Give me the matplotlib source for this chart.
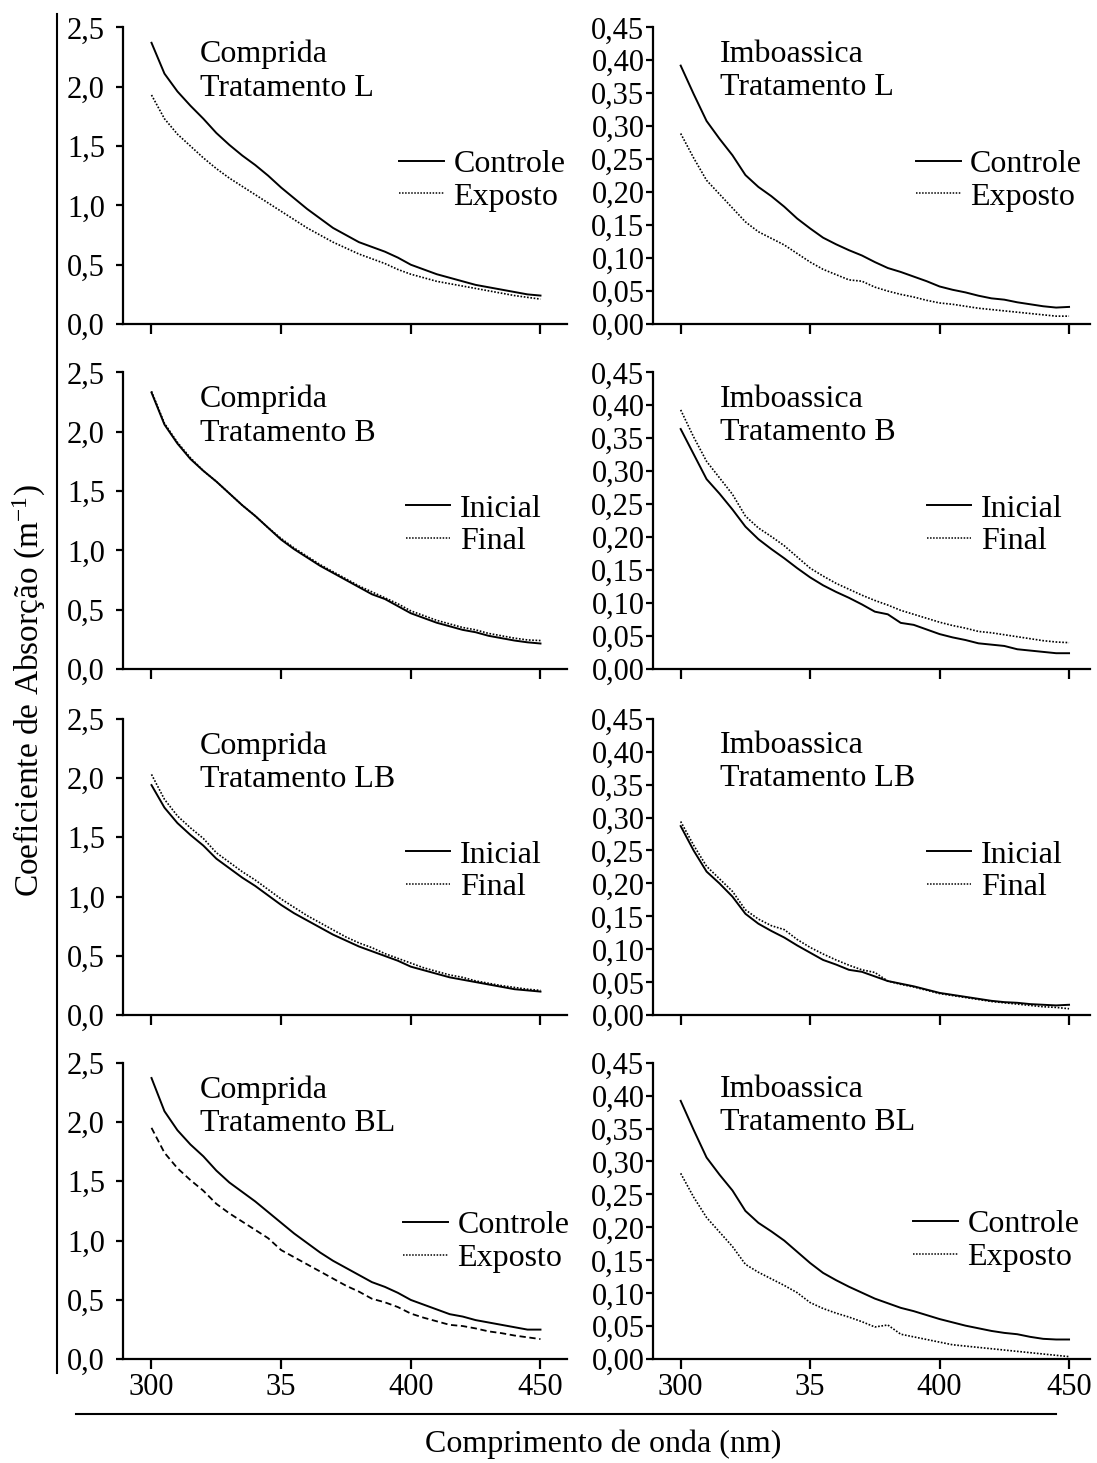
#!/usr/bin/env python3
"""
Absorption spectra of CDOM for Comprida and Imboassica lagoons,
four treatments each (L, B, LB, BL). 4 x 2 grid of line panels.
"""

import matplotlib
matplotlib.use('Agg')  # no display
import matplotlib.pyplot as plt
from matplotlib.lines import Line2D
from matplotlib.transforms import Bbox, TransformedBbox

# wavelength grid (nm)
WAVELENGTH = [300, 305, 310, 315, 320, 325, 330, 335, 340, 345, 350,
              355, 360, 365, 370, 375, 380, 385, 390, 395, 400,
              405, 410, 415, 420, 425, 430, 435, 440, 445, 450]

# Comprida - Tratamento L
COMPRIDA_L_CONTROLE = [2.37, 2.11, 1.96, 1.84, 1.73, 1.61, 1.51, 1.42, 1.34, 1.25, 1.15,
                       1.06, 0.97, 0.89, 0.81, 0.75, 0.69, 0.65, 0.61, 0.56, 0.50,
                       0.46, 0.42, 0.39, 0.36, 0.33, 0.31, 0.29, 0.27, 0.25, 0.24]
COMPRIDA_L_EXPOSTO = [1.93, 1.73, 1.60, 1.50, 1.40, 1.31, 1.23, 1.16, 1.09, 1.02, 0.95,
                      0.88, 0.81, 0.75, 0.69, 0.64, 0.59, 0.55, 0.51, 0.46, 0.42,
                      0.39, 0.36, 0.34, 0.32, 0.30, 0.28, 0.26, 0.24, 0.225, 0.21]

# Imboassica - Tratamento L
IMBOASSICA_L_CONTROLE = [0.392, 0.349, 0.308, 0.281, 0.256, 0.226, 0.208, 0.194, 0.178, 0.160, 0.145,
                         0.131, 0.121, 0.112, 0.104, 0.094, 0.085, 0.079, 0.072, 0.065, 0.057,
                         0.052, 0.048, 0.043, 0.039, 0.037, 0.033, 0.030, 0.027, 0.025, 0.026]
IMBOASSICA_L_EXPOSTO = [0.289, 0.252, 0.218, 0.197, 0.176, 0.155, 0.140, 0.130, 0.120, 0.107, 0.094,
                        0.083, 0.075, 0.067, 0.065, 0.056, 0.050, 0.045, 0.041, 0.036, 0.032,
                        0.030, 0.027, 0.024, 0.022, 0.020, 0.018, 0.016, 0.014, 0.012, 0.012]

# Comprida - Tratamento B
COMPRIDA_B_INICIAL = [2.33, 2.06, 1.90, 1.77, 1.67, 1.58, 1.48, 1.38, 1.29, 1.19, 1.09,
                      1.01, 0.94, 0.87, 0.81, 0.75, 0.69, 0.63, 0.59, 0.53, 0.47,
                      0.43, 0.39, 0.36, 0.33, 0.31, 0.28, 0.26, 0.24, 0.225, 0.215]
COMPRIDA_B_FINAL = [2.34, 2.07, 1.91, 1.78, 1.67, 1.58, 1.48, 1.38, 1.29, 1.19, 1.10,
                    1.02, 0.95, 0.88, 0.82, 0.76, 0.70, 0.65, 0.60, 0.55, 0.49,
                    0.45, 0.41, 0.38, 0.35, 0.33, 0.30, 0.28, 0.26, 0.245, 0.24]

# Imboassica - Tratamento B
IMBOASSICA_B_INICIAL = [0.364, 0.326, 0.288, 0.266, 0.242, 0.216, 0.197, 0.182, 0.168, 0.153, 0.139,
                        0.127, 0.117, 0.108, 0.098, 0.087, 0.083, 0.070, 0.067, 0.060, 0.053,
                        0.048, 0.044, 0.039, 0.037, 0.035, 0.030, 0.028, 0.026, 0.024, 0.024]
IMBOASSICA_B_FINAL = [0.393, 0.352, 0.315, 0.290, 0.265, 0.232, 0.214, 0.201, 0.187, 0.170, 0.153,
                      0.141, 0.130, 0.121, 0.112, 0.104, 0.097, 0.089, 0.083, 0.077, 0.071,
                      0.066, 0.062, 0.057, 0.055, 0.052, 0.049, 0.046, 0.043, 0.041, 0.040]

# Comprida - Tratamento LB
COMPRIDA_LB_INICIAL = [1.94, 1.75, 1.62, 1.52, 1.43, 1.32, 1.24, 1.16, 1.09, 1.01, 0.93,
                       0.86, 0.80, 0.74, 0.68, 0.63, 0.58, 0.54, 0.50, 0.46, 0.41,
                       0.38, 0.35, 0.32, 0.30, 0.28, 0.26, 0.24, 0.22, 0.21, 0.20]
COMPRIDA_LB_FINAL = [2.03, 1.82, 1.68, 1.58, 1.49, 1.37, 1.29, 1.21, 1.14, 1.06, 0.98,
                     0.91, 0.84, 0.78, 0.72, 0.66, 0.61, 0.57, 0.52, 0.48, 0.44,
                     0.40, 0.37, 0.34, 0.32, 0.29, 0.27, 0.25, 0.235, 0.22, 0.21]

# Imboassica - Tratamento LB
IMBOASSICA_LB_INICIAL = [0.287, 0.250, 0.218, 0.200, 0.180, 0.154, 0.139, 0.128, 0.118, 0.106, 0.095,
                         0.084, 0.077, 0.069, 0.066, 0.059, 0.052, 0.048, 0.044, 0.039, 0.034,
                         0.031, 0.028, 0.025, 0.022, 0.020, 0.019, 0.017, 0.016, 0.015, 0.016]
IMBOASSICA_LB_FINAL = [0.294, 0.258, 0.226, 0.207, 0.188, 0.160, 0.146, 0.136, 0.130, 0.115, 0.103,
                       0.093, 0.084, 0.076, 0.069, 0.065, 0.052, 0.047, 0.043, 0.038, 0.033,
                       0.030, 0.027, 0.024, 0.021, 0.019, 0.017, 0.015, 0.013, 0.012, 0.010]

# Comprida - Tratamento BL
COMPRIDA_BL_CONTROLE = [2.37, 2.09, 1.93, 1.81, 1.71, 1.59, 1.49, 1.41, 1.33, 1.24, 1.15,
                        1.06, 0.98, 0.90, 0.83, 0.77, 0.71, 0.65, 0.61, 0.56, 0.50,
                        0.46, 0.42, 0.38, 0.36, 0.33, 0.31, 0.29, 0.27, 0.25, 0.25]
COMPRIDA_BL_EXPOSTO = [1.95, 1.74, 1.61, 1.51, 1.42, 1.31, 1.23, 1.16, 1.09, 1.02, 0.92,
                       0.86, 0.80, 0.74, 0.68, 0.62, 0.57, 0.51, 0.48, 0.44, 0.385,
                       0.35, 0.32, 0.29, 0.28, 0.26, 0.235, 0.22, 0.20, 0.185, 0.17]

# Imboassica - Tratamento BL
IMBOASSICA_BL_CONTROLE = [0.392, 0.348, 0.306, 0.280, 0.256, 0.225, 0.207, 0.194, 0.180, 0.163, 0.146,
                          0.131, 0.120, 0.110, 0.101, 0.092, 0.085, 0.078, 0.073, 0.067, 0.061,
                          0.056, 0.051, 0.047, 0.043, 0.040, 0.038, 0.034, 0.031, 0.030, 0.030]
IMBOASSICA_BL_EXPOSTO = [0.282, 0.246, 0.215, 0.193, 0.171, 0.144, 0.132, 0.122, 0.112, 0.101, 0.086,
                         0.077, 0.070, 0.064, 0.057, 0.049, 0.052, 0.038, 0.034, 0.030, 0.026,
                         0.022, 0.020, 0.018, 0.016, 0.014, 0.012, 0.010, 0.008, 0.006, 0.004]

# axis ticks (the original figure labels 350 as "35")
X_TICKS = [300, 350, 400, 450]
X_TICK_LABELS = ['300', '35', '400', '450']
Y_TICKS_COMPRIDA = [0.0, 0.5, 1.0, 1.5, 2.0, 2.5]
Y_LABELS_COMPRIDA = ['0,0', '0,5', '1,0', '1,5', '2,0', '2,5']
Y_TICKS_IMBOASSICA = [0.0, 0.05, 0.10, 0.15, 0.20, 0.25, 0.30, 0.35, 0.40, 0.45]
Y_LABELS_IMBOASSICA = ['0,00', '0,05', '0,10', '0,15', '0,20', '0,25',
                       '0,30', '0,35', '0,40', '0,45']

TREATMENTS = ['L', 'B', 'LB', 'BL']
LEGEND_LABELS = [('Controle', 'Exposto'), ('Inicial', 'Final'),
                 ('Inicial', 'Final'), ('Controle', 'Exposto')]


def main():
    plt.rcParams['font.family'] = ['Liberation Serif', 'DejaVu Serif']
    plt.rcParams['mathtext.fontset'] = 'custom'
    plt.rcParams['mathtext.rm'] = 'Liberation Serif'
    plt.rcParams['mathtext.it'] = 'Liberation Serif:italic'
    plt.rcParams['font.size'] = 22
    plt.rcParams['axes.linewidth'] = 1.6

    fig = plt.figure(figsize=(10.97, 14.63), dpi=100)

    comprida = [(COMPRIDA_L_CONTROLE, COMPRIDA_L_EXPOSTO),
                (COMPRIDA_B_INICIAL, COMPRIDA_B_FINAL),
                (COMPRIDA_LB_INICIAL, COMPRIDA_LB_FINAL),
                (COMPRIDA_BL_CONTROLE, COMPRIDA_BL_EXPOSTO)]
    imboassica = [(IMBOASSICA_L_CONTROLE, IMBOASSICA_L_EXPOSTO),
                  (IMBOASSICA_B_INICIAL, IMBOASSICA_B_FINAL),
                  (IMBOASSICA_LB_INICIAL, IMBOASSICA_LB_FINAL),
                  (IMBOASSICA_BL_CONTROLE, IMBOASSICA_BL_EXPOSTO)]

    # panel geometry (figure fractions)
    row_bottoms = [0.7785, 0.5427, 0.3060, 0.0709]
    height = 0.2028
    col_left = [(0.1121, 0.4047), (0.5950, 0.3984)]
    xlims = [(289, 460.2), (289.2, 458)]

    # legend anchors (axes fractions) and clip for the cut "Exposto" text
    leg_pos = [[(0.622, 0.588), (0.602, 0.588)],
               [(0.637, 0.589), (0.627, 0.589)],
               [(0.637, 0.590), (0.627, 0.590)],
               [(0.631, 0.500), (0.596, 0.503)]]
    leg_clip = [[0.374, 0.375], [None, None], [None, None], [0.292, None]]

    for r in range(4):
        for c in range(2):
            left, width = col_left[c]
            ax = fig.add_axes([left, row_bottoms[r], width, height])
            first, second = (comprida if c == 0 else imboassica)[r]

            ax.plot(WAVELENGTH, first, color='black', lw=1.4, ls='-', clip_on=False)
            if r == 3 and c == 0:
                # this exposed curve is drawn dashed in the original
                ax.plot(WAVELENGTH, second, color='black', lw=1.3, ls=(0, (3.5, 2)),
                        clip_on=False)
            else:
                ax.plot(WAVELENGTH, second, color='black', lw=1.2, ls=(0, (1, 1)),
                        clip_on=False)

            ax.set_xlim(*xlims[c])
            if c == 0:
                ax.set_ylim(0, 2.5)
                ax.set_yticks(Y_TICKS_COMPRIDA)
                ax.set_yticklabels(Y_LABELS_COMPRIDA)
                ax.tick_params(axis='y', pad=8)
                site = 'Comprida'
                tx = 0.173
            else:
                ax.set_ylim(0, 0.45)
                ax.set_yticks(Y_TICKS_IMBOASSICA)
                ax.set_yticklabels(Y_LABELS_IMBOASSICA)
                ax.tick_params(axis='y', pad=1)
                site = 'Imboassica'
                tx = 0.154

            ax.set_xticks(X_TICKS)
            if r == 3:
                ax.set_xticklabels(X_TICK_LABELS)
            else:
                ax.set_xticklabels([])

            ax.spines['top'].set_visible(False)
            ax.spines['right'].set_visible(False)
            ax.tick_params(axis='x', direction='out', length=7, width=1.6, pad=3,
                           labelsize=22)
            ax.tick_params(axis='y', direction='out', length=5, width=1.6,
                           labelsize=22)

            ax.text(tx, 0.958, f'{site}\nTratamento {TREATMENTS[r]}',
                    transform=ax.transAxes, ha='left', va='top', fontsize=23,
                    linespacing=1.2)

            handles = [Line2D([], [], color='black', lw=1.4, ls='-'),
                       Line2D([], [], color='black', lw=1.1, ls=(0, (1, 1)))]
            leg = ax.legend(handles, LEGEND_LABELS[r], loc='upper left',
                            bbox_to_anchor=leg_pos[r][c], frameon=False,
                            handlelength=1.4, handletextpad=0.3,
                            labelspacing=0.1, borderpad=0, borderaxespad=0,
                            fontsize=23)
            if leg_clip[r][c] is not None:
                clip = TransformedBbox(Bbox([[0, leg_clip[r][c]], [1.4, 1.0]]),
                                       ax.transAxes)
                txt = leg.get_texts()[1]
                txt.set_clip_box(clip)
                txt.set_clip_on(True)

            if r == 3:
                # bottom of the wavelength labels is cut in the original
                cut = TransformedBbox(Bbox([[0, 0.0425], [1, 1]]), fig.transFigure)
                for lbl in ax.get_xticklabels():
                    lbl.set_clip_box(cut)
                    lbl.set_clip_on(True)

    # bracket lines and shared axis titles
    fig.add_artist(Line2D([0.052, 0.052], [0.9904, 0.0615], transform=fig.transFigure,
                          color='black', lw=1.5))
    fig.add_artist(Line2D([0.0697, 0.963], [0.0332, 0.0332], transform=fig.transFigure,
                          color='black', lw=1.5))
    fig.text(0.027, 0.528, 'Coeficiente de Absorção (m$^{-1}$)', rotation=90,
             ha='center', va='center', fontsize=24)
    fig.text(0.55, 0.0125, 'Comprimento de onda (nm)', ha='center', va='center',
             fontsize=23)

    fig.savefig('out.png', dpi=100)
    plt.close(fig)


if __name__ == "__main__":
    main()
